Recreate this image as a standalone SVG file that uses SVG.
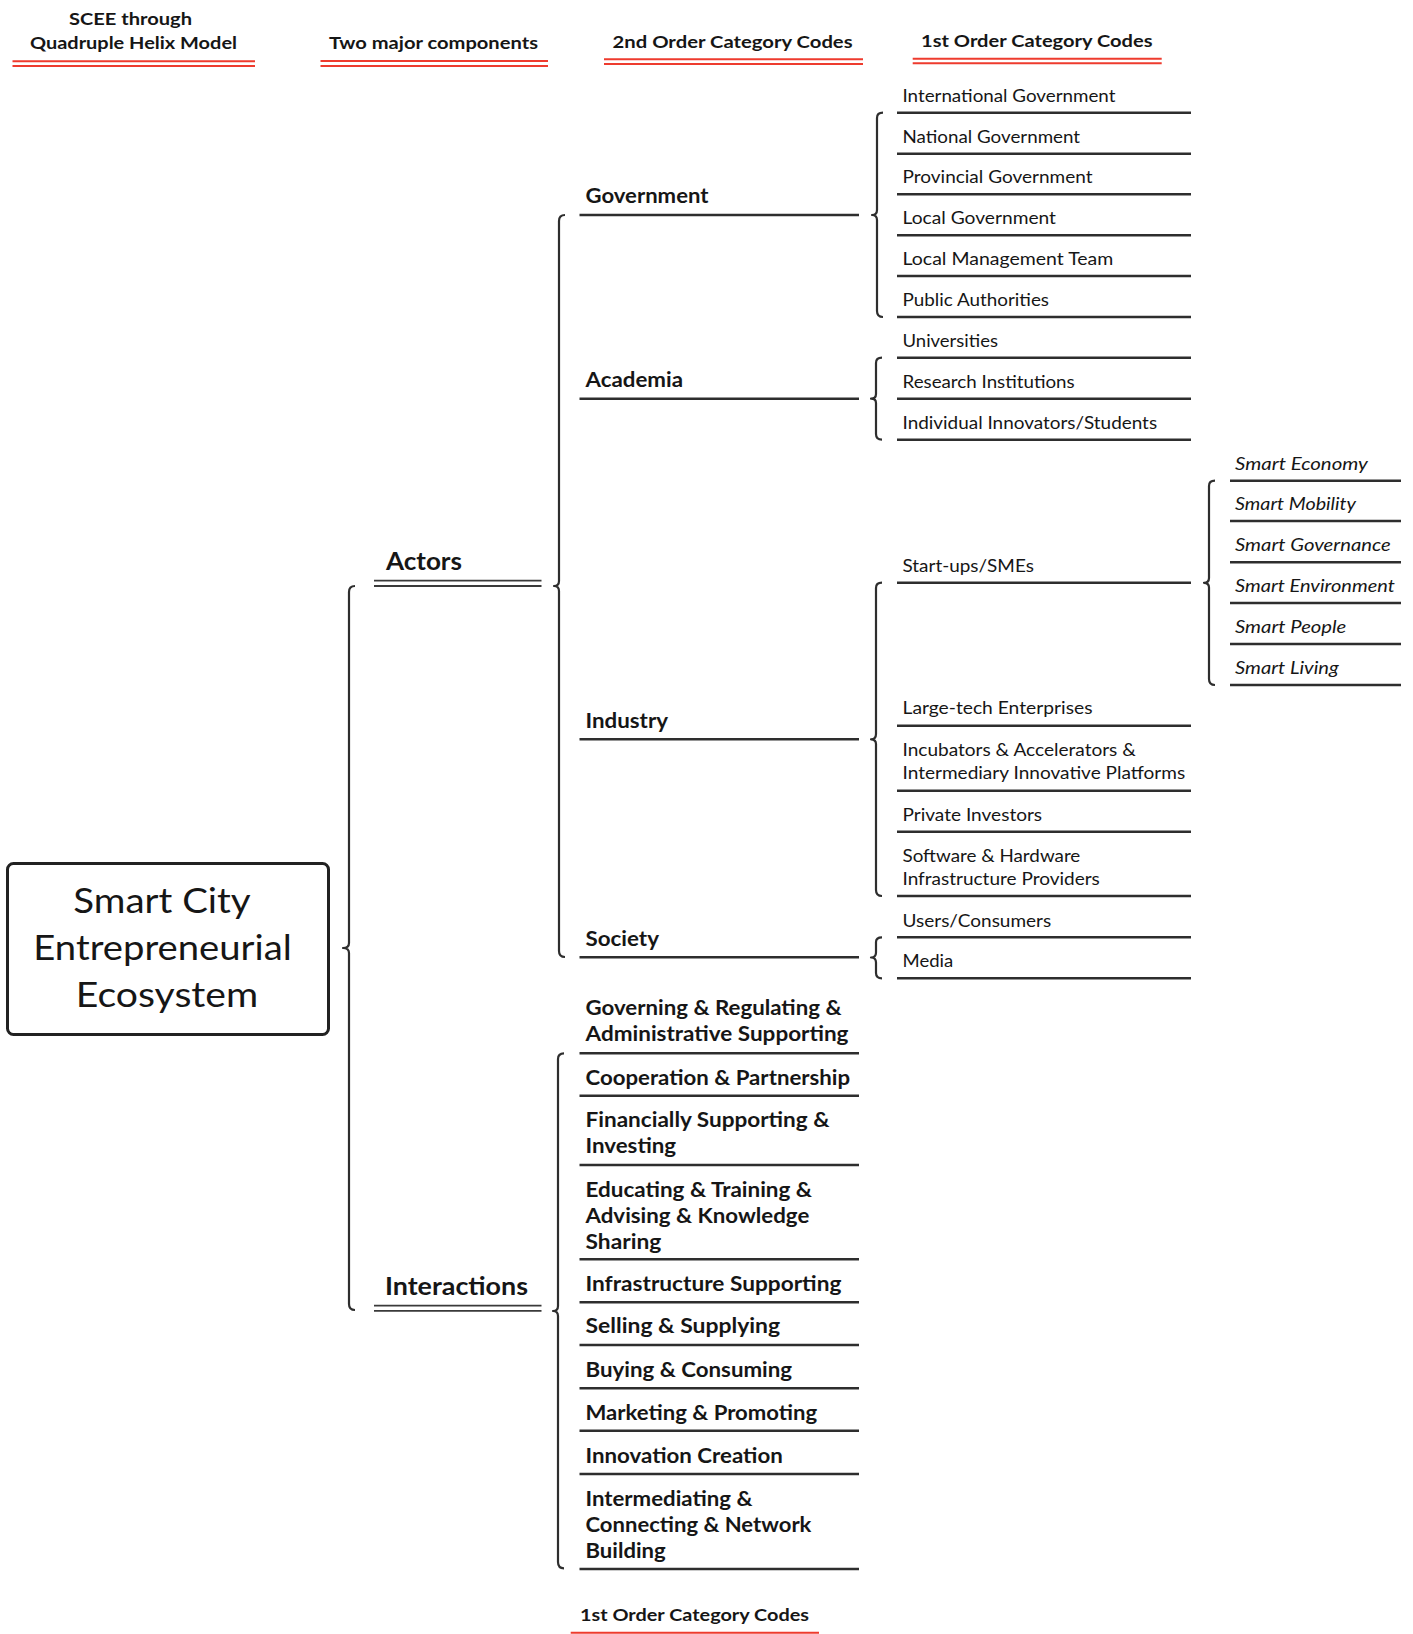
<svg xmlns="http://www.w3.org/2000/svg" width="1413" height="1634" viewBox="0 0 1413 1634">
<style>
text{font-family:Lato,"Noto Sans","Liberation Sans",sans-serif;fill:#161616}
.hd{font-size:17px;font-weight:700;text-anchor:middle}
.c1{font-size:18px}
.sm{font-size:18px;font-style:italic}
.c2{font-size:20px;font-weight:700}
.c0{font-size:24px;font-weight:700}
.root{font-size:35px;text-anchor:middle}
.ln{stroke:#2e2e2e;stroke-width:2.4;fill:none}
.dl{stroke:#3a3a3a;stroke-width:1.8;fill:none}
.red{stroke:#ee3b2e;stroke-width:2;fill:none}
.br{stroke:#2e2e2e;stroke-width:2.2;fill:none;stroke-linejoin:round}
</style>
<rect width="1413" height="1634" fill="#ffffff"/>

<g id="headers">
<g id="h-scee">
<text class="hd" x="130.5" y="25" textLength="123" lengthAdjust="spacingAndGlyphs">SCEE through</text>
<text class="hd" x="133.5" y="49" textLength="207" lengthAdjust="spacingAndGlyphs">Quadruple Helix Model</text>
<path class="red" d="M12.5,61.3H255M12.5,66H255"/>
</g>
<g id="h-two">
<text class="hd" x="433.5" y="49" textLength="209" lengthAdjust="spacingAndGlyphs">Two major components</text>
<path class="red" d="M320.5,61H548M320.5,66H548"/>
</g>
<g id="h-2nd">
<text class="hd" x="732.6" y="48" textLength="240" lengthAdjust="spacingAndGlyphs">2nd Order Category Codes</text>
<path class="red" d="M604,59.3H863M604,64H863"/>
</g>
<g id="h-1st">
<text class="hd" x="1036.8" y="46.5" textLength="231.5" lengthAdjust="spacingAndGlyphs">1st Order Category Codes</text>
<path class="red" d="M912.7,58.7H1161.7M912.7,63.3H1161.7"/>
</g>
<g id="h-1st-bottom">
<text class="hd" x="694.5" y="1621" textLength="229" lengthAdjust="spacingAndGlyphs">1st Order Category Codes</text>
<path class="red" d="M570.7,1632.7H819M570.7,1637.4H819"/>
</g>
</g>

<g id="root">
<rect x="7.5" y="863.5" width="321" height="171" rx="6" fill="#fff" stroke="#222" stroke-width="3"/>
<text class="root" x="162" y="913" textLength="177.4" lengthAdjust="spacingAndGlyphs">Smart City</text>
<text class="root" x="162.5" y="960" textLength="258.4" lengthAdjust="spacingAndGlyphs">Entrepreneurial</text>
<text class="root" x="167" y="1006.5" textLength="182.3" lengthAdjust="spacingAndGlyphs">Ecosystem</text>
</g>

<g id="actors">
<text class="c0" x="386" y="570" textLength="76" lengthAdjust="spacingAndGlyphs">Actors</text>
<path class="dl" d="M374,580.7H541.5M374,586H541.5"/>
</g>
<g id="interactions">
<text class="c0" x="385" y="1295" textLength="143" lengthAdjust="spacingAndGlyphs">Interactions</text>
<path class="dl" d="M374,1305.7H541.5M374,1310.8H541.5"/>
</g>

<g id="government"><text class="c2" x="585.5" y="203" textLength="123" lengthAdjust="spacingAndGlyphs">Government</text><path class="ln" d="M579.5,215H859"/></g>
<g id="academia"><text class="c2" x="585.5" y="387" textLength="97.5" lengthAdjust="spacingAndGlyphs">Academia</text><path class="ln" d="M579.5,398.7H859"/></g>
<g id="industry"><text class="c2" x="585.5" y="728" textLength="82.5" lengthAdjust="spacingAndGlyphs">Industry</text><path class="ln" d="M579.5,739.3H859"/></g>
<g id="society"><text class="c2" x="585.5" y="946" textLength="73.5" lengthAdjust="spacingAndGlyphs">Society</text><path class="ln" d="M579.5,957.3H859"/></g>

<g id="i-governing"><text class="c2" x="585.5" y="1015" textLength="256" lengthAdjust="spacingAndGlyphs">Governing &amp; Regulating &amp;</text><text class="c2" x="585.5" y="1041" textLength="263" lengthAdjust="spacingAndGlyphs">Administrative Supporting</text><path class="ln" d="M579.5,1053.3H859"/></g>
<g id="i-cooperation"><text class="c2" x="585.5" y="1085" textLength="264.6" lengthAdjust="spacingAndGlyphs">Cooperation &amp; Partnership</text><path class="ln" d="M579.5,1095.7H859"/></g>
<g id="i-financially"><text class="c2" x="585.5" y="1127.3" textLength="244" lengthAdjust="spacingAndGlyphs">Financially Supporting &amp;</text><text class="c2" x="585.5" y="1153.3" textLength="90.6" lengthAdjust="spacingAndGlyphs">Investing</text><path class="ln" d="M579.5,1165H859"/></g>
<g id="i-educating"><text class="c2" x="585.5" y="1196.7" textLength="226.6" lengthAdjust="spacingAndGlyphs">Educating &amp; Training &amp;</text><text class="c2" x="585.5" y="1222.7" textLength="223.8" lengthAdjust="spacingAndGlyphs">Advising &amp; Knowledge</text><text class="c2" x="585.5" y="1248.7" textLength="75.8" lengthAdjust="spacingAndGlyphs">Sharing</text><path class="ln" d="M579.5,1259.3H859"/></g>
<g id="i-infrastructure"><text class="c2" x="585.5" y="1290.7" textLength="255.9" lengthAdjust="spacingAndGlyphs">Infrastructure Supporting</text><path class="ln" d="M579.5,1302.3H859"/></g>
<g id="i-selling"><text class="c2" x="585.5" y="1333.3" textLength="194.6" lengthAdjust="spacingAndGlyphs">Selling &amp; Supplying</text><path class="ln" d="M579.5,1345H859"/></g>
<g id="i-buying"><text class="c2" x="585.5" y="1376.7" textLength="206.6" lengthAdjust="spacingAndGlyphs">Buying &amp; Consuming</text><path class="ln" d="M579.5,1388.3H859"/></g>
<g id="i-marketing"><text class="c2" x="585.5" y="1420" textLength="231.7" lengthAdjust="spacingAndGlyphs">Marketing &amp; Promoting</text><path class="ln" d="M579.5,1430.7H859"/></g>
<g id="i-innovation"><text class="c2" x="585.5" y="1462.7" textLength="197.3" lengthAdjust="spacingAndGlyphs">Innovation Creation</text><path class="ln" d="M579.5,1474H859"/></g>
<g id="i-intermediating"><text class="c2" x="585.5" y="1505.7" textLength="167" lengthAdjust="spacingAndGlyphs">Intermediating &amp;</text><text class="c2" x="585.5" y="1531.7" textLength="225.9" lengthAdjust="spacingAndGlyphs">Connecting &amp; Network</text><text class="c2" x="585.5" y="1557.7" textLength="80.2" lengthAdjust="spacingAndGlyphs">Building</text><path class="ln" d="M579.5,1569H859"/></g>

<g id="g-international"><text class="c1" x="902.5" y="101.7" textLength="212.9" lengthAdjust="spacingAndGlyphs">International Government</text><path class="ln" d="M897,112.7H1191"/></g>
<g id="g-national"><text class="c1" x="902.5" y="142.7" textLength="177.6" lengthAdjust="spacingAndGlyphs">National Government</text><path class="ln" d="M897,153.7H1191"/></g>
<g id="g-provincial"><text class="c1" x="902.5" y="183.3" textLength="190" lengthAdjust="spacingAndGlyphs">Provincial Government</text><path class="ln" d="M897,194.3H1191"/></g>
<g id="g-local"><text class="c1" x="902.5" y="224.3" textLength="153.5" lengthAdjust="spacingAndGlyphs">Local Government</text><path class="ln" d="M897,235.3H1191"/></g>
<g id="g-localmgmt"><text class="c1" x="902.5" y="265" textLength="210.8" lengthAdjust="spacingAndGlyphs">Local Management Team</text><path class="ln" d="M897,276H1191"/></g>
<g id="g-public"><text class="c1" x="902.5" y="306" textLength="146.5" lengthAdjust="spacingAndGlyphs">Public Authorities</text><path class="ln" d="M897,317H1191"/></g>
<g id="a-universities"><text class="c1" x="902.5" y="346.7" textLength="95.4" lengthAdjust="spacingAndGlyphs">Universities</text><path class="ln" d="M897,357.7H1191"/></g>
<g id="a-research"><text class="c1" x="902.5" y="387.7" textLength="172.2" lengthAdjust="spacingAndGlyphs">Research Institutions</text><path class="ln" d="M897,398.7H1191"/></g>
<g id="a-individual"><text class="c1" x="902.5" y="428.7" textLength="254.6" lengthAdjust="spacingAndGlyphs">Individual Innovators/Students</text><path class="ln" d="M897,439.7H1191"/></g>
<g id="n-startups"><text class="c1" x="902.5" y="571.7" textLength="131.4" lengthAdjust="spacingAndGlyphs">Start-ups/SMEs</text><path class="ln" d="M897,582.7H1191"/></g>
<g id="n-largetech"><text class="c1" x="902.5" y="714.3" textLength="190" lengthAdjust="spacingAndGlyphs">Large-tech Enterprises</text><path class="ln" d="M897,725.7H1191"/></g>
<g id="n-incubators"><text class="c1" x="902.5" y="756" textLength="233.3" lengthAdjust="spacingAndGlyphs">Incubators &amp; Accelerators &amp;</text><text class="c1" x="902.5" y="779.3" textLength="282.7" lengthAdjust="spacingAndGlyphs">Intermediary Innovative Platforms</text><path class="ln" d="M897,790.7H1191"/></g>
<g id="n-private"><text class="c1" x="902.5" y="820.7" textLength="139.6" lengthAdjust="spacingAndGlyphs">Private Investors</text><path class="ln" d="M897,831.7H1191"/></g>
<g id="n-software"><text class="c1" x="902.5" y="861.7" textLength="177.8" lengthAdjust="spacingAndGlyphs">Software &amp; Hardware</text><text class="c1" x="902.5" y="885" textLength="197.3" lengthAdjust="spacingAndGlyphs">Infrastructure Providers</text><path class="ln" d="M897,896H1191"/></g>
<g id="s-users"><text class="c1" x="902.5" y="926.7" textLength="148.7" lengthAdjust="spacingAndGlyphs">Users/Consumers</text><path class="ln" d="M897,937.3H1191"/></g>
<g id="s-media"><text class="c1" x="902.5" y="967.3" textLength="50.7" lengthAdjust="spacingAndGlyphs">Media</text><path class="ln" d="M897,978.3H1191"/></g>

<g id="sm-economy"><text class="sm" x="1235" y="469.7" textLength="132.9" lengthAdjust="spacingAndGlyphs">Smart Economy</text><path class="ln" d="M1230,480.7H1401"/></g>
<g id="sm-mobility"><text class="sm" x="1235" y="510" textLength="121" lengthAdjust="spacingAndGlyphs">Smart Mobility</text><path class="ln" d="M1230,521H1401"/></g>
<g id="sm-governance"><text class="sm" x="1235" y="551.3" textLength="155.8" lengthAdjust="spacingAndGlyphs">Smart Governance</text><path class="ln" d="M1230,562.3H1401"/></g>
<g id="sm-environment"><text class="sm" x="1235" y="592" textLength="159.8" lengthAdjust="spacingAndGlyphs">Smart Environment</text><path class="ln" d="M1230,603H1401"/></g>
<g id="sm-people"><text class="sm" x="1235" y="633" textLength="111.3" lengthAdjust="spacingAndGlyphs">Smart People</text><path class="ln" d="M1230,644H1401"/></g>
<g id="sm-living"><text class="sm" x="1235" y="674" textLength="103.8" lengthAdjust="spacingAndGlyphs">Smart Living</text><path class="ln" d="M1230,685H1401"/></g>

<g id="connectors">
<path class="br" d="M355,586Q349,586 349,592L349,943Q349,948 343,948Q349,948 349,953L349,1304Q349,1310 355,1310"/>
<path class="br" d="M565,215Q559,215 559,221L559,581Q559,586 554,586Q559,586 559,591L559,951Q559,957 565,957"/>
<path class="br" d="M564,1053.3Q558,1053.3 558,1059L558,1306Q558,1311 553,1311Q558,1311 558,1316L558,1562Q558,1568.3 564,1568.3"/>
<path class="br" d="M883,112.7Q877,112.7 877,118L877,210Q877,215 872,215Q877,215 877,220L877,311Q877,317 883,317"/>
<path class="br" d="M882,357.7Q876,357.7 876,363L876,394Q876,398.7 871,398.7Q876,398.7 876,403L876,434Q876,439.7 882,439.7"/>
<path class="br" d="M882,582.7Q876,582.7 876,588L876,734Q876,739.3 871,739.3Q876,739.3 876,744L876,890Q876,896 882,896"/>
<path class="br" d="M882,937.3Q876,937.3 876,942L876,952.5Q876,957.5 871,957.5Q876,957.5 876,962.5L876,973Q876,978.3 882,978.3"/>
<path class="br" d="M1215,480.7Q1209,480.7 1209,486L1209,578Q1209,582.8 1204,582.8Q1209,582.8 1209,587.5L1209,679Q1209,685 1215,685"/>
</g>
</svg>
